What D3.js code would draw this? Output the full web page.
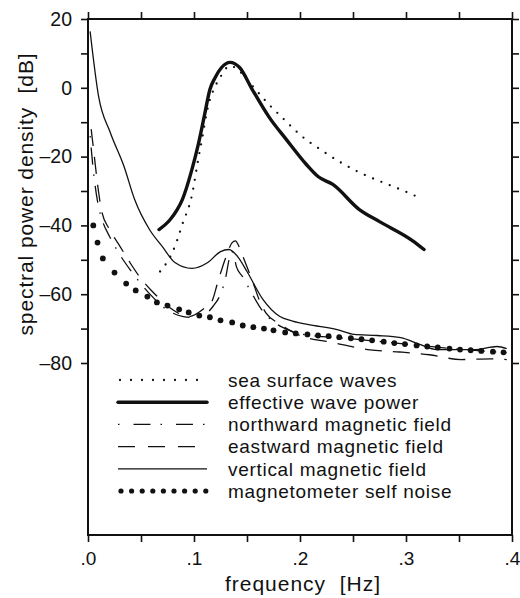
<!DOCTYPE html>
<html><head><meta charset="utf-8">
<script src="https://cdn.jsdelivr.net/npm/d3@7"></script>
<style>
body{margin:0;background:#fff}
svg{display:block}
text{font-family:"Liberation Sans",Arial,Helvetica,sans-serif;fill:#111}
</style></head><body>
<svg id="c" width="520" height="598"></svg>
<script>
// ---- axis ticks / labels ----
const xTicks=[0,0.05,0.1,0.15,0.2,0.25,0.3,0.35,0.4];
const xLabelled=[0,0.1,0.2,0.3,0.4];
const xTickText=[".0",".1",".2",".3",".4"];
const yTicks=[20,10,0,-10,-20,-30,-40,-50,-60,-70,-80];
const yLabelled=[20,0,-20,-40,-60,-80];
const yTickText=["20","0","\u201320","\u201340","\u201360","\u201380"];

// ---- series ----
const seaF=[0.068,0.075,0.080,0.084,0.089,0.098,0.104,0.108,0.112,0.119,0.124,0.129,0.134,0.139,0.146,0.154,0.169,0.184,0.201,0.219,0.239,0.256,0.278,0.299,0.310];
const seaV=[-53.4,-50.5,-47.6,-44.4,-39.7,-31.3,-20.8,-14.2,-7.2,-0.2,2.6,5.2,6.4,5.8,3.9,1.0,-4.3,-8.9,-13.9,-17.9,-21.8,-24.6,-27.5,-30.1,-31.6];

const effF=[0.067,0.077,0.084,0.089,0.098,0.104,0.110,0.115,0.120,0.126,0.134,0.143,0.155,0.171,0.187,0.206,0.217,0.231,0.256,0.275,0.306,0.317];
const effV=[-41.2,-38.5,-35.5,-32.5,-23.8,-16.5,-7.8,-0.5,3.0,5.9,7.4,5.9,-0.5,-8.6,-15.0,-22.3,-25.8,-28.1,-35.4,-38.9,-44.4,-47.0];

const northF=[0.002,0.005,0.009,0.014,0.02,0.03,0.04,0.05,0.06,0.07,0.08,0.09,0.1,0.11,0.118,0.125,0.13,0.133,0.135,0.137,0.14,0.146,0.155,0.165,0.175,0.19,0.2,0.25,0.3,0.35,0.395];
const northV=[-14,-24,-33,-39,-43,-48.5,-53,-57,-60.5,-63.5,-65.5,-66.5,-66.8,-66,-63.5,-60,-55,-50,-47.5,-48,-52,-55,-60,-65,-68,-70.5,-71.5,-73,-74.5,-76,-77];

const eastF=[0.003,0.006,0.009,0.013,0.02,0.03,0.04,0.05,0.06,0.07,0.08,0.095,0.11,0.117,0.122,0.127,0.131,0.136,0.139,0.143,0.148,0.155,0.162,0.168,0.18,0.2,0.23,0.266,0.294,0.322,0.352,0.38,0.395];
const eastV=[-12,-20,-28,-36,-41,-46,-51,-55.5,-59,-62,-64.5,-66.5,-64,-62,-57,-52,-48.5,-45,-44.5,-46.5,-50.5,-56,-62,-65.5,-68.5,-72,-74,-76.2,-76.8,-77.6,-79,-78.8,-79];

const vertF=[0.002,0.010,0.021,0.034,0.044,0.058,0.070,0.082,0.098,0.113,0.125,0.133,0.141,0.150,0.165,0.181,0.193,0.207,0.235,0.251,0.273,0.295,0.313,0.329,0.364,0.386,0.395];
const vertV=[16.4,-2.5,-13.0,-22.9,-32.5,-41.2,-46.1,-50.8,-52.5,-50.8,-47.6,-47.0,-49.0,-53.4,-61.5,-66.5,-67.8,-68.8,-70.3,-71.7,-72.0,-72.6,-74.6,-76.1,-76.1,-75.2,-75.8];

const noiseF=[0.005,0.009,0.014,0.025,0.036,0.045,0.056,0.065,0.075,0.086,0.095,0.105,0.115,0.125,0.136,0.146,0.156,0.166,0.175,0.186,0.196,0.207,0.217,0.227,0.237,0.248,0.258,0.268,0.279,0.289,0.299,0.310,0.320,0.330,0.341,0.351,0.361,0.371,0.382,0.392];
const noiseV=[-40.0,-45.0,-49.6,-53.7,-56.9,-58.9,-60.7,-62.4,-63.3,-64.4,-65.3,-66.2,-66.7,-67.6,-68.2,-69.1,-69.6,-70.0,-70.5,-71.1,-71.4,-71.7,-72.0,-72.2,-72.5,-72.8,-73.1,-73.4,-73.8,-74.2,-74.5,-74.9,-75.2,-75.5,-75.8,-76.1,-76.3,-76.5,-76.7,-76.9];

const legendNames=["sea surface waves","effective wave power","northward magnetic field","eastward magnetic field","vertical magnetic field","magnetometer self noise"];

// ---- drawing ----
const svg=d3.select("#c");
const L=88,R=512,T=19,B=535;
const x=d3.scaleLinear().domain([0,0.4]).range([L,R]);
const y=d3.scaleLinear().domain([-130,20]).range([B,T]);
const ink="#111";

svg.append("defs").append("clipPath").attr("id","clip")
  .append("rect").attr("x",L).attr("y",T).attr("width",R-L).attr("height",B-T);

function fmtX(d){const i=xLabelled.findIndex(v=>Math.abs(v-d)<1e-9);return i<0?"":xTickText[i];}
function fmtY(d){const i=yLabelled.indexOf(d);return i<0?"":yTickText[i];}

const gB=svg.append("g").attr("transform",`translate(0,${B})`)
  .call(d3.axisBottom(x).tickValues(xTicks).tickSize(7).tickSizeOuter(0).tickPadding(10).tickFormat(fmtX));
const gT=svg.append("g").attr("transform",`translate(0,${T})`)
  .call(d3.axisTop(x).tickValues(xTicks).tickSize(7).tickSizeOuter(0).tickFormat(""));
const gL=svg.append("g").attr("transform",`translate(${L},0)`)
  .call(d3.axisLeft(y).tickValues(yTicks).tickSize(7).tickSizeOuter(0).tickPadding(9).tickFormat(fmtY));
const gR=svg.append("g").attr("transform",`translate(${R},0)`)
  .call(d3.axisRight(y).tickValues(yTicks).tickSize(7).tickSizeOuter(0).tickFormat(""));
[gB,gT,gL,gR].forEach(g=>{
  g.select(".domain").remove();
  g.selectAll(".tick line").attr("stroke",ink).attr("stroke-width",1.6);
  g.selectAll(".tick text").attr("fill",ink).style("font-size","19.5px")
   .style("font-family",'"Liberation Sans",Arial,Helvetica,sans-serif');
});
gB.selectAll(".tick text").style("font-size","19px");
svg.append("rect").attr("x",L).attr("y",T).attr("width",R-L).attr("height",B-T)
  .attr("fill","none").attr("stroke",ink).attr("stroke-width",2);

// axis titles
svg.append("text").attr("transform","translate(33,194) rotate(-90)")
  .attr("text-anchor","middle").style("font-size","21px").style("letter-spacing","0.9px")
  .text("spectral power density\u00a0\u00a0[dB]");
svg.append("text").attr("x",303).attr("y",591).attr("text-anchor","middle")
  .style("font-size","21px").style("letter-spacing","1px")
  .text("frequency\u00a0\u00a0[Hz]");

const line=d3.line().x(d=>x(d[0])).y(d=>y(d[1])).curve(d3.curveMonotoneX);
const pl=svg.append("g").attr("clip-path","url(#clip)");
const zip=(a,b)=>a.map((v,i)=>[v,b[i]]);

const styles=[
  {w:2.3,dash:"0 9",cap:"round"},
  {w:3.4,dash:null,cap:"round"},
  {w:1.3,dash:"1.5 10 17 10",cap:"butt"},
  {w:1.3,dash:"17 11",cap:"butt"},
  {w:1.3,dash:null,cap:"butt"}
];
const series=[zip(seaF,seaV),zip(effF,effV),zip(northF,northV),zip(eastF,eastV),zip(vertF,vertV)];
series.forEach((s,i)=>{
  const st=styles[i];
  pl.append("path").datum(s).attr("d",line).attr("fill","none").attr("stroke",ink)
    .attr("stroke-width",st.w).attr("stroke-linecap",st.cap).attr("stroke-linejoin","round")
    .attr("stroke-dasharray",st.dash);
});
pl.selectAll("circle.n").data(zip(noiseF,noiseV)).enter().append("circle")
  .attr("cx",d=>x(d[0])).attr("cy",d=>y(d[1])).attr("r",2.9).attr("fill",ink);

// legend
const lg=svg.append("g");
const rowY=i=>380+i*22.2;
legendNames.forEach((name,i)=>{
  const yy=rowY(i);
  if(i<5){
    const st=styles[i];
    lg.append("line").attr("x1",i===0?120:118).attr("x2",207).attr("y1",yy).attr("y2",yy)
      .attr("stroke",ink).attr("stroke-width",st.w).attr("stroke-linecap",st.cap)
      .attr("stroke-dasharray",i===0?"0 11":(i===2?"1.5 14 17 10":(i===3?"17 13":null)));
  } else {
    d3.range(9).forEach(k=>lg.append("circle").attr("cx",121+k*10.6).attr("cy",yy).attr("r",2.6).attr("fill",ink));
  }
  lg.append("text").attr("x",228).attr("y",yy).attr("dy","0.36em")
    .style("font-size","19px").style("letter-spacing","0.7px").text(name);
});
</script>
</body></html>
